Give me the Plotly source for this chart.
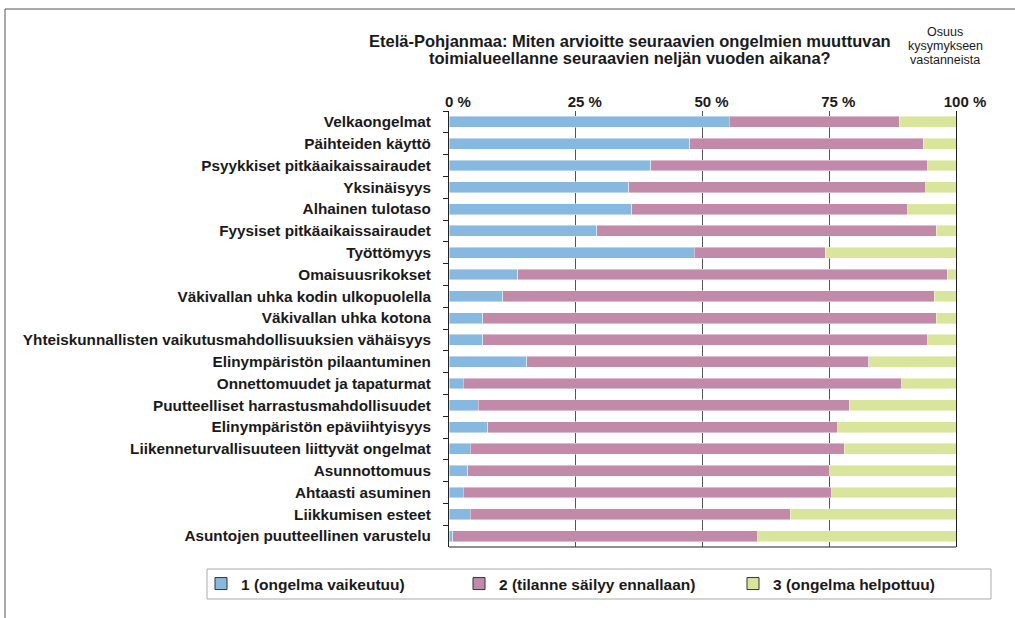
import plotly.graph_objects as go

categories = [
    "Velkaongelmat",
    "Päihteiden käyttö",
    "Psyykkiset pitkäaikaissairaudet",
    "Yksinäisyys",
    "Alhainen tulotaso",
    "Fyysiset pitkäaikaissairaudet",
    "Työttömyys",
    "Omaisuusrikokset",
    "Väkivallan uhka kodin ulkopuolella",
    "Väkivallan uhka kotona",
    "Yhteiskunnallisten vaikutusmahdollisuuksien vähäisyys",
    "Elinympäristön pilaantuminen",
    "Onnettomuudet ja tapaturmat",
    "Puutteelliset harrastusmahdollisuudet",
    "Elinympäristön epäviihtyisyys",
    "Liikenneturvallisuuteen liittyvät ongelmat",
    "Asunnottomuus",
    "Ahtaasti asuminen",
    "Liikkumisen esteet",
    "Asuntojen puutteellinen varustelu",
]

vaikeutuu = [55.3, 47.5, 39.8, 35.5, 36.0, 29.1, 48.4, 13.6, 10.6, 6.7,
             6.7, 15.3, 2.8, 5.8, 7.6, 4.2, 3.7, 2.8, 4.2, 0.7]
ennallaan = [33.5, 46.0, 54.6, 58.5, 54.5, 67.0, 25.8, 84.7, 85.1, 89.4,
             87.7, 67.5, 86.5, 73.1, 69.1, 73.8, 71.4, 72.7, 63.1, 60.2]
helpottuu = [11.2, 6.5, 5.6, 6.0, 9.5, 3.9, 25.8, 1.7, 4.3, 3.9,
             5.6, 17.2, 10.7, 21.1, 23.3, 22.0, 24.9, 24.5, 32.7, 39.1]

series_names = ["1 (ongelma vaikeutuu)", "2 (tilanne säilyy ennallaan)", "3 (ongelma helpottuu)"]
series_values = [vaikeutuu, ennallaan, helpottuu]
series_colors = ["#87B9E0", "#C18AA8", "#D9E59A"]

tick_vals = [0, 25, 50, 75, 100]
tick_text = ["0 %", "25 %", "50 %", "75 %", "100 %"]

title_lines = ["Etelä-Pohjanmaa: Miten arvioitte seuraavien ongelmien muuttuvan",
               "toimialueellanne seuraavien neljän vuoden aikana?"]
side_lines = ["Osuus", "kysymykseen", "vastanneista"]

FONT = "Liberation Sans, Arial, sans-serif"
TXT = "#1a1a1a"

# plot area in pixels
L, R, T, B = 449, 956, 111, 547
W, H = 1015, 618
pw, ph = R - L, B - T


def px_x(x):
    return (x - L) / pw


def px_y(y):
    return (B - y) / ph


fig = go.Figure()

legend_ids = ["legend", "legend2", "legend3"]
legend_sym_x = [221, 479, 753]

for name, vals, col, lid in zip(series_names, series_values, series_colors, legend_ids):
    fig.add_trace(go.Bar(
        y=categories, x=vals, name=name, orientation="h",
        marker=dict(color=col, line=dict(color="rgba(255,255,255,0.7)", width=0.6)),
        showlegend=False, legendgroup=name,
    ))
    fig.add_trace(go.Bar(
        y=[None], x=[None], name=name, orientation="h",
        marker=dict(color=col, line=dict(color="#333333", width=1)),
        showlegend=True, legend=lid, legendgroup=name,
    ))

legend_common = dict(
    orientation="h", yanchor="middle", xanchor="left",
    font=dict(family=FONT, size=15.5, color=TXT, weight="bold"),
    bgcolor="rgba(0,0,0,0)", borderwidth=0, itemclick=False, itemdoubleclick=False,
)
legend_layouts = {}
for lid, sx in zip(legend_ids, legend_sym_x):
    legend_layouts[lid] = dict(legend_common, x=px_x(sx - 20), y=px_y(584))

fig.update_layout(
    barmode="stack",
    bargap=0.5,
    width=W, height=H,
    margin=dict(l=L, r=W - R, t=T, b=H - B, pad=0),
    paper_bgcolor="white", plot_bgcolor="white",
    font=dict(family=FONT, color=TXT),
    xaxis=dict(
        side="top", range=[0, 100], tickvals=tick_vals, ticktext=tick_text,
        showgrid=True, gridcolor="#555555", gridwidth=1, zeroline=False,
        showline=False, ticks="", ticklabelshift=9,
        tickfont=dict(family=FONT, size=15, color=TXT, weight="bold"),
        fixedrange=True,
    ),
    yaxis=dict(
        autorange="reversed", showline=True, linecolor="#222222", linewidth=1,
        mirror=True, ticks="outside", ticklen=5, tickcolor="#222222",
        tickson="boundaries", showgrid=False, ticklabelstandoff=14,
        tickfont=dict(family=FONT, size=15.3, color=TXT, weight="bold"),
        fixedrange=True,
    ),
    **legend_layouts,
)

shapes = [
    # bottom axis line
    dict(type="line", xref="paper", yref="paper", x0=0, x1=1, y0=0, y1=0,
         line=dict(color="#222222", width=1.2)),
    # outer frame (cropped at right/bottom)
    dict(type="rect", xref="paper", yref="paper", x0=px_x(5), x1=px_x(1030),
         y0=px_y(640), y1=px_y(9), line=dict(color="#555555", width=1)),
    # legend box
    dict(type="rect", xref="paper", yref="paper", x0=px_x(207), x1=px_x(991),
         y0=px_y(599), y1=px_y(569), line=dict(color="#aaaaaa", width=1)),
]
fig.update_layout(shapes=shapes)

for line, yy in zip(title_lines, [41, 58]):
    fig.add_annotation(
        text=line, xref="paper", yref="paper", x=px_x(630), y=px_y(yy),
        xanchor="center", yanchor="middle", showarrow=False,
        font=dict(family=FONT, size=16.5, color=TXT, weight="bold"),
    )

for line, yy in zip(side_lines, [32, 46, 60]):
    fig.add_annotation(
        text=line, xref="paper", yref="paper", x=px_x(945), y=px_y(yy),
        xanchor="center", yanchor="middle", showarrow=False,
        font=dict(family=FONT, size=12.5, color=TXT),
    )

fig.write_html("out.html", config={"displayModeBar": False},
               post_script="document.body.style.margin='0';")
